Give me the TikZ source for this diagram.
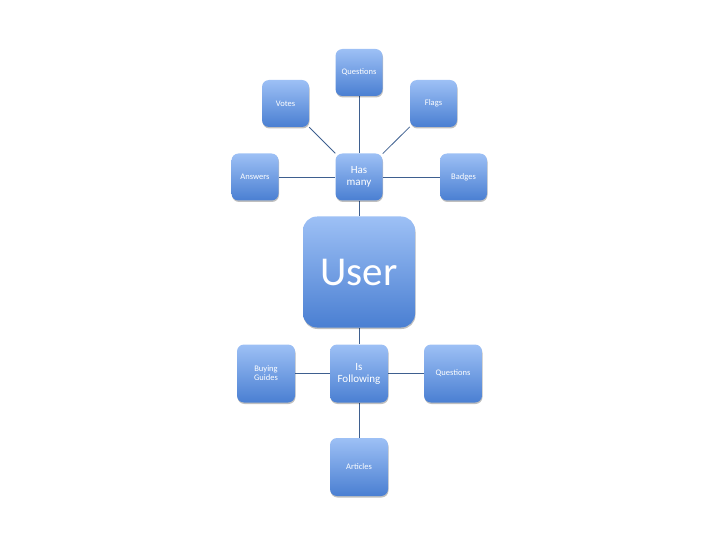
\documentclass[tikz,border=0pt]{standalone}
\usepackage{fontspec}
\setmainfont{Carlito}
\usetikzlibrary{shadows,backgrounds}
\begin{document}
\begin{tikzpicture}[x=1pt,y=-1pt,
  box/.style={draw=none, rounded corners=7pt, top color=boxtop, bottom color=boxbot,
     text=white, align=center, inner sep=0pt,
     drop shadow={shadow xshift=0.5pt, shadow yshift=-1.5pt, opacity=0.25, fill=black}},
  small/.style={box, minimum width=47pt, minimum height=47pt, font=\fontsize{8.5}{9}\selectfont},
  mid/.style={box, minimum width=58pt, minimum height=58pt, font=\fontsize{8.5}{9}\selectfont},
  link/.style={draw=linkc, line width=0.8pt}]
\definecolor{boxtop}{HTML}{9DC0F5}
\definecolor{boxbot}{HTML}{4A7FD2}
\definecolor{linkc}{HTML}{3E5F8F}
\useasboundingbox (0,0) rectangle (720,540);
% upper cluster
\node[small] (q1) at (359,72.5) {Questions};
\node[small] (votes) at (285.5,103.5) {Votes};
\node[small] (flags) at (433.5,103.5) {Flags};
\node[small] (answers) at (255,177) {Answers};
\node[small, font=\fontsize{11}{12}\selectfont] (has) at (359,177) {Has\\many};
\node[small] (badges) at (463.5,177) {Badges};
% user
\node[box, rounded corners=14pt, minimum width=112pt, minimum height=111pt, font=\fontsize{41}{41}\selectfont] (user) at (359,272) {User};
% lower cluster
\node[mid, font=\fontsize{11}{12}\selectfont] (follow) at (359,373.5) {Is\\Following};
\node[mid] (buying) at (266,373.5) {Buying\\Guides};
\node[mid] (q2) at (453,373.5) {Questions};
\node[mid] (articles) at (359,467) {Articles};
\begin{scope}[on background layer]
\draw[link] (has) -- (q1);
\draw[link] (has) -- (votes);
\draw[link] (has) -- (flags);
\draw[link] (has) -- (answers);
\draw[link] (has) -- (badges);
\draw[link] (has) -- (user);
\draw[link] (user) -- (follow);
\draw[link] (follow) -- (buying);
\draw[link] (follow) -- (q2);
\draw[link] (follow) -- (articles);
\end{scope}
\end{tikzpicture}
\end{document}
